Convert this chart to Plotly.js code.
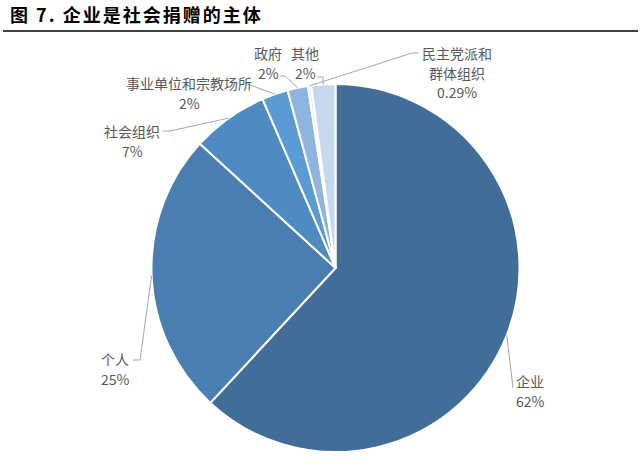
<!DOCTYPE html>
<html>
<head>
<meta charset="utf-8">
<script src="https://cdn.plot.ly/plotly-3.0.1.min.js"></script>
<style>html,body{margin:0;padding:0;background:#fff;}#chart{width:641px;height:469px;}.gtitle{letter-spacing:2px;}</style>
</head>
<body>
<div id="chart"></div>
<script>
// ---- data ----
const categories = ["企业", "个人", "社会组织", "事业单位和宗教场所", "政府", "民主党派和群体组织", "其他"];
const values = [61.9, 24.9, 6.7, 2.3, 1.8, 0.29, 2.1];
const valueLabels = ["62%", "25%", "7%", "2%", "2%", "0.29%", "2%"];
const labelLines = [["企业"], ["个人"], ["社会组织"], ["事业单位和宗教场所"], ["政府"], ["民主党派和", "群体组织"], ["其他"]];

// ---- styles / layout ----
const colors = ["#416e98", "#4a7eb0", "#4f8bc3", "#5b9bd5", "#8fb4de", "#e4edf7", "#c6d8ee"];
const W = 641, H = 469;
const M = {l: 100, r: 70, t: 84, b: 17};
const plotW = W - M.l - M.r, plotH = H - M.t - M.b;
const cx = M.l + plotW / 2, cy = M.t + plotH / 2, R = Math.min(plotW, plotH) / 2;
const LINE_H = 19.5;
const labelFont = {family: '"Noto Sans CJK SC", "Noto Sans", sans-serif', size: 14, color: '#595959'};

// first-line centre of each label and leader bend points (pixels)
const labelPos = [[530, 381], [115, 359], [132, 131], [189, 83], [268, 53], [457, 53], [305, 53]];
const leaderBends = [
  [[513, 388]],
  [[140, 360], [133, 360]],
  [[170, 131], [163, 131]],
  [[245, 83]],
  [[285, 76], [280, 76]],
  [[412, 53], [418, 53]],
  [[323, 77], [317, 77]]
];

const px = x => (x - M.l) / plotW;
const py = y => (M.t + plotH - y) / plotH;

const total = values.reduce((a, b) => a + b, 0);
let cum = 0;
const shapes = [];
const annotations = [];
values.forEach((v, i) => {
  const mid = (cum + v / 2) / total * 2 * Math.PI;
  cum += v;
  const ax = cx + R * Math.sin(mid), ay = cy - R * Math.cos(mid);
  let path = `M ${px(ax)} ${py(ay)}`;
  leaderBends[i].forEach(p => { path += ` L ${px(p[0])} ${py(p[1])}`; });
  shapes.push({type: 'path', xref: 'paper', yref: 'paper', path: path,
    line: {color: '#a6a6a6', width: 1}});
  const lines = labelLines[i].concat([valueLabels[i]]);
  lines.forEach((t, k) => {
    annotations.push({xref: 'paper', yref: 'paper', x: px(labelPos[i][0]), y: py(labelPos[i][1] + k * LINE_H),
      xanchor: 'center', yanchor: 'middle', showarrow: false, text: t, font: labelFont});
  });
});

// title underline
shapes.push({type: 'line', xref: 'paper', yref: 'paper', x0: px(3), x1: px(638), y0: py(31), y1: py(31),
  line: {color: '#000000', width: 1.5}});

const trace = {
  type: 'pie',
  labels: categories,
  values: values,
  sort: false,
  direction: 'clockwise',
  rotation: 0,
  textinfo: 'none',
  hoverinfo: 'label+percent',
  marker: {colors: colors, line: {color: '#ffffff', width: 2}},
  showlegend: false
};

const layout = {
  width: W, height: H,
  margin: M,
  paper_bgcolor: '#ffffff',
  plot_bgcolor: '#ffffff',
  title: {text: '<b>图 7. 企业是社会捐赠的主体</b>', x: 10 / W, xanchor: 'left', xref: 'container',
    y: 1 - 16 / H, yanchor: 'middle', yref: 'container',
    font: {family: '"Noto Sans CJK SC", sans-serif', size: 18, color: '#000000'}},
  shapes: shapes,
  annotations: annotations,
  showlegend: false
};

Plotly.newPlot('chart', [trace], layout, {displayModeBar: false, staticPlot: true});
</script>
</body>
</html>
